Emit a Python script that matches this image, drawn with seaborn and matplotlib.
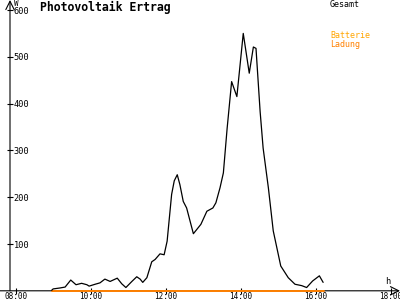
import matplotlib
matplotlib.use("Agg")
import matplotlib.pyplot as plt
import seaborn as sns
import pandas as pd

# ---- data ----
hours = [8.95, 8.99, 9.17, 9.31, 9.46, 9.60, 9.75, 9.89, 9.95, 10.11, 10.24, 10.37,
         10.51, 10.70, 10.82, 10.93, 11.09, 11.22, 11.31, 11.38, 11.49, 11.62, 11.71,
         11.84, 11.95, 12.03, 12.15, 12.22, 12.30, 12.37, 12.46, 12.55, 12.73, 12.82,
         12.93, 13.09, 13.25, 13.33, 13.44, 13.53, 13.63, 13.75, 13.89, 14.06, 14.22,
         14.33, 14.40, 14.51, 14.59, 14.73, 14.86, 15.06, 15.26, 15.44, 15.62, 15.75,
         15.91, 16.09, 16.19]
gesamt = [1, 4, 6, 8, 23, 13, 16, 13, 10, 14, 17, 25,
          20, 27, 15, 7, 20, 30, 25, 18, 28, 62, 67,
          79, 77, 106, 206, 235, 248, 227, 191, 177, 122, 131,
          142, 170, 177, 188, 220, 252, 347, 447, 415, 550, 465,
          521, 518, 383, 305, 220, 128, 53, 28, 14, 11, 7,
          21, 32, 18]
ladung_hours = [8.95, 16.21]
ladung = [0, 0]

xtick_hours = [8, 10, 12, 14, 16, 18]
xtick_labels = ["08:00", "10:00", "12:00", "14:00", "16:00", "18:00"]
ytick_values = [100, 200, 300, 400, 500, 600]
title = "Photovoltaik Ertrag"
legend_labels = ["Gesamt", "Batterie", "Ladung"]
unit_y = "W"
unit_x = "h"

# ---- style ----
sns.set_theme(style="white")
plt.rcParams['font.family'] = ['DejaVu Sans Mono', 'DejaVu Sans']

W, H = 400, 300
fig = plt.figure(figsize=(4, 3), dpi=100)
fig.patch.set_facecolor("white")
ax = fig.add_axes([0, 9.2 / H, 1, 290.8 / H])
ax.set_facecolor("white")

x_left = 8 + (0 - 16) / 37.5
x_right = 8 + (400 - 16) / 37.5
y_axis_x = 8 + (10 - 16) / 37.5
ymax = 621.4

ax.set_xlim(x_left, x_right)
ax.set_ylim(0, ymax)

# axis lines with arrows
ax.annotate('', xy=(1.0, 0), xytext=(0, 0), xycoords='axes fraction',
            arrowprops=dict(arrowstyle='->,head_length=0.5,head_width=0.25',
                            color='black', lw=0.8, shrinkA=0, shrinkB=0),
            annotation_clip=False, zorder=2)
ax.annotate('', xy=(y_axis_x, ymax), xytext=(y_axis_x, 0), xycoords='data',
            arrowprops=dict(arrowstyle='->,head_length=0.5,head_width=0.25',
                            color='black', lw=0.8, shrinkA=0, shrinkB=0),
            annotation_clip=False, zorder=2)

df_l = pd.DataFrame({"t": ladung_hours, "W": ladung})
df_g = pd.DataFrame({"t": hours, "W": gesamt})
sns.lineplot(data=df_l, x="t", y="W", color="#ff8000", lw=1.4, ax=ax,
             clip_on=False, zorder=5)
sns.lineplot(data=df_g, x="t", y="W", color="black", lw=0.9, ax=ax, zorder=6)

ax.set_xlabel("")
ax.set_ylabel("")

for s in ax.spines.values():
    s.set_visible(False)
ax.spines['left'].set_position(('data', y_axis_x))

ax.set_xticks(xtick_hours)
ax.set_xticklabels(xtick_labels)
ax.set_yticks(ytick_values)
ax.set_yticklabels([str(v) for v in ytick_values])
ax.tick_params(axis='both', direction='inout', length=5, width=0.8, colors='black',
               labelsize=6.2, bottom=True, left=True, top=False, right=False)
ax.tick_params(axis='x', pad=-1.9, labelsize=5.5)
ax.tick_params(axis='y', pad=-5.2)
for lab in ax.get_yticklabels():
    lab.set_ha('left')

# texts
fig.text(40 / W, 1 - 7 / H, title, ha='left', va='center', fontweight='bold',
         fontsize=8.3, color='black')
fig.text(330 / W, 1 - 4.5 / H, legend_labels[0], ha='left', va='center',
         fontsize=6.0, color='black')
fig.text(330 / W, 1 - 36 / H, legend_labels[1], ha='left', va='center',
         fontsize=6.0, color='#ffa500')
fig.text(330 / W, 1 - 44 / H, legend_labels[2], ha='left', va='center',
         fontsize=6.0, color='#ff8000')
fig.text(14 / W, 1 - 3 / H, unit_y, ha='left', va='center', fontsize=5.5, color='black')
fig.text(385 / W, 1 - 282 / H, unit_x, ha='left', va='center', fontsize=6.2, color='black')

fig.savefig("out.png", dpi=100, facecolor="white")
